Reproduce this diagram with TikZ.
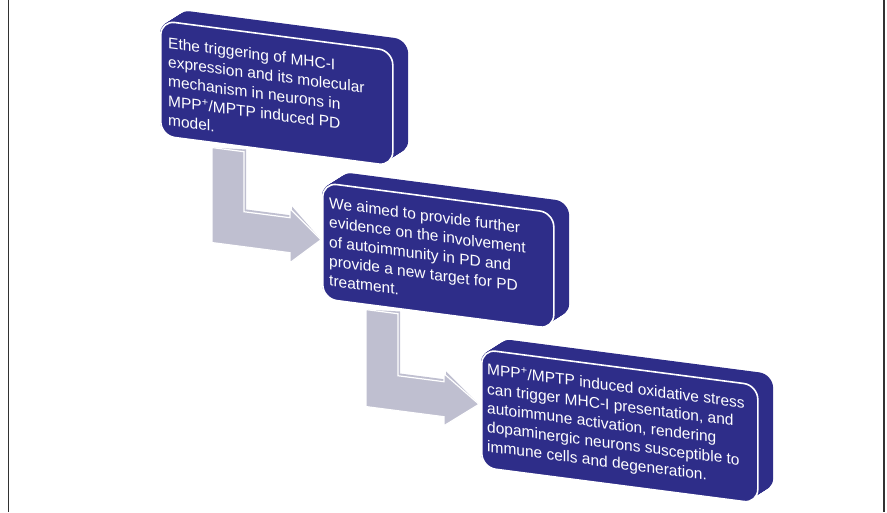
\documentclass[tikz,border=0pt]{standalone}
\usepackage{fontspec}
\setmainfont{Liberation Sans}
\definecolor{navy}{RGB}{46,45,137}
\definecolor{arrowgray}{RGB}{191,191,208}
\definecolor{frame}{RGB}{50,50,50}
\tikzset{
  face/.style={fill=navy, draw=white, line width=1.6pt, rounded corners=14pt,
    inner sep=0pt, transform shape, anchor=north west},
  txt/.style={text=white, inner sep=0pt, transform shape, anchor=base west,
    font=\fontsize{15.5}{19.2}\selectfont},
  backarrow/.style={fill=arrowgray},
  frontarrow/.style={fill=arrowgray, draw=white, line width=1.2pt, line join=miter}
}
\begin{document}
\begin{tikzpicture}[x=1pt,y=-1pt]
\useasboundingbox (0,0) rectangle (887,512);
\draw[frame, line width=1.4pt] (8.5,0) -- (8.5,512);
\draw[frame, line width=1.4pt] (884,0) -- (884,512);
\begin{scope}[cm={1,-0.13,0,1,(0,0)}]
  % box 1
  \foreach \t in {0,0.05,...,1.0}
    \fill[navy, rounded corners=14pt] (160+17*\t,-1-13*\t) rectangle ++(232,115);
  \node[face, minimum width=232pt, minimum height=115pt] (b1) at (160,-1) {};
  \foreach \l [count=\i] in {Ethe triggering of MHC-I, expression and its molecular,
      mechanism in neurons in, MPP\textsuperscript{+}/MPTP induced PD, model.}
    \node[txt] (t1-\i) at (168,26.3+19.4*\i-19.4) {\l};
  % box 2
  \foreach \t in {0,0.05,...,1.0}
    \fill[navy, rounded corners=14pt] (322+17*\t,140-13*\t) rectangle ++(231,116);
  \node[face, minimum width=231pt, minimum height=116pt] (b2) at (322,140) {};
  \foreach \l [count=\i] in {We aimed to provide further, evidence on the involvement,
      of autoimmunity in PD and, provide a new target for PD, treatment.}
    \node[txt] (t2-\i) at (329,165.5+19.4*\i-19.4) {\l};
  % box 3
  \foreach \t in {0,0.05,...,1.0}
    \fill[navy, rounded corners=14pt] (481+17*\t,286-13*\t) rectangle ++(276,118);
  \node[face, minimum width=276pt, minimum height=118pt] (b3) at (481,286) {};
  \foreach \l [count=\i] in {MPP\textsuperscript{+}/MPTP induced oxidative stress,
      {can trigger MHC-I presentation, and}, {autoimmune activation, rendering},
      dopaminergic neurons susceptible to, immune cells and degeneration.}
    \node[txt] (t3-\i) at (487,311.5+19.2*\i-19.2) {\l};
  % arrow 1
  \coordinate (a1) at (212,120);
  \coordinate (a1tip) at (321,198);
  \fill[backarrow, shift={(2,-2.5)}] (a1) -- (244,120) -- (244,180) -- (290,180) -- (290,171) -- (a1tip) -- (290,225) -- (290,215) -- (212,215) -- cycle;
  \filldraw[frontarrow] (a1) -- (244,120) -- (244,180) -- (290,180) -- (290,171) -- (a1tip) -- (290,225) -- (290,215) -- (212,215) -- cycle;
  % arrow 2
  \coordinate (a2) at (366,262);
  \coordinate (a2tip) at (479,342);
  \fill[backarrow, shift={(2,-2.5)}] (a2) -- (398,262) -- (398,324) -- (444,324) -- (444,316) -- (a2tip) -- (444,368) -- (444,359) -- (366,359) -- cycle;
  \filldraw[frontarrow] (a2) -- (398,262) -- (398,324) -- (444,324) -- (444,316) -- (a2tip) -- (444,368) -- (444,359) -- (366,359) -- cycle;
\end{scope}
\end{tikzpicture}
\end{document}
